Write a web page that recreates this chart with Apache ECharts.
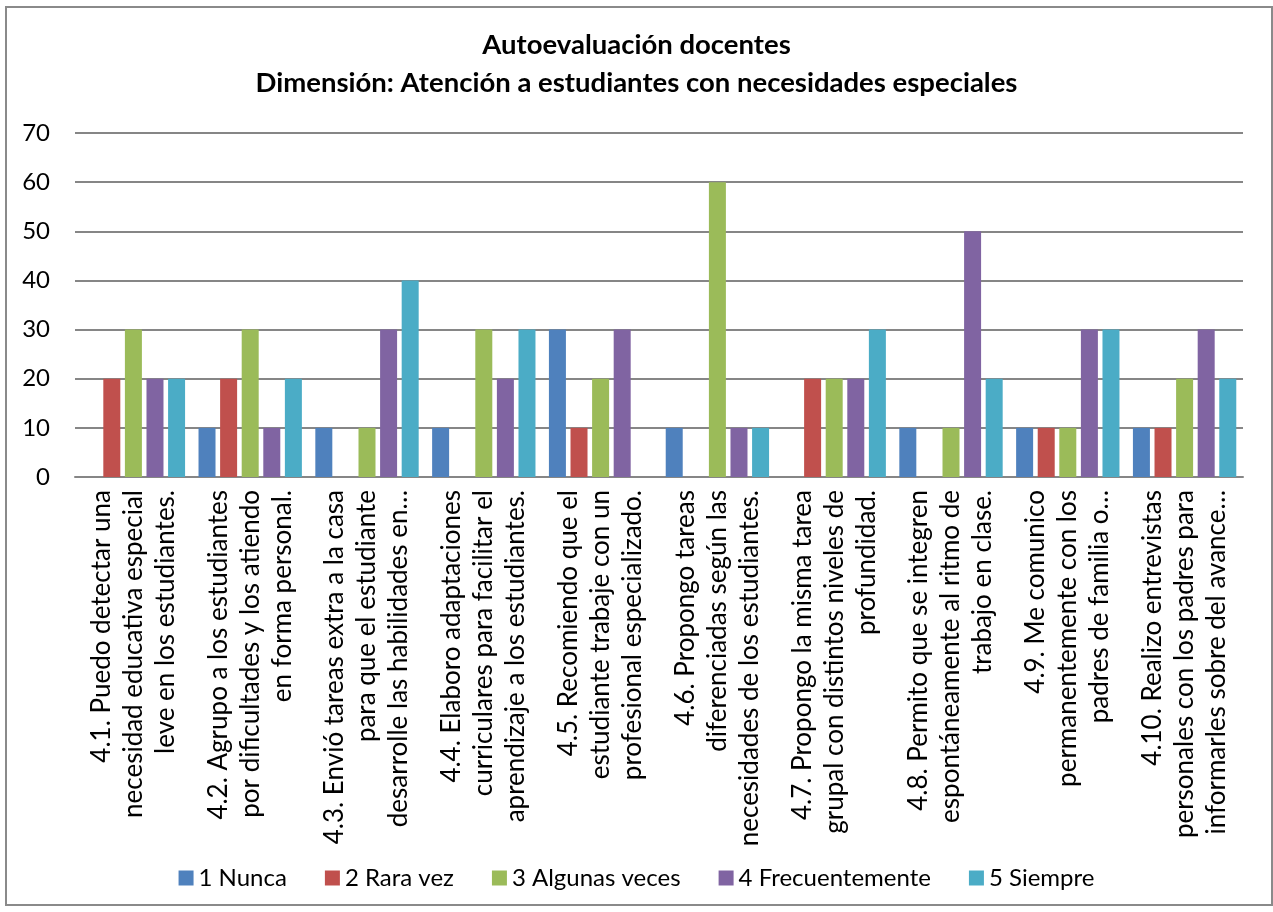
<!DOCTYPE html>
<html>
<head>
<meta charset="utf-8">
<script src="https://cdn.jsdelivr.net/npm/echarts@6/dist/echarts.min.js"></script>
<style>
html,body{margin:0;padding:0;background:#fff;}
#chart{position:absolute;left:0;top:0;width:1273px;height:912px;}
#frame{position:absolute;left:5px;top:6px;width:1264px;height:896px;border:2px solid #8a8a8a;pointer-events:none;}
</style>
</head>
<body>
<div id="chart"></div>
<div id="frame"></div>
<script>
const categories = [
  "4.1. Puedo detectar una\nnecesidad educativa especial\nleve en los estudiantes.",
  "4.2. Agrupo a los estudiantes\npor dificultades y los atiendo\nen forma personal.",
  "4.3. Envió tareas extra a la casa\npara que el estudiante\ndesarrolle las habilidades en…",
  "4.4. Elaboro adaptaciones\ncurriculares para facilitar el\naprendizaje a los estudiantes.",
  "4.5. Recomiendo que el\nestudiante trabaje con un\nprofesional especializado.",
  "4.6. Propongo tareas\ndiferenciadas según las\nnecesidades de los estudiantes.",
  "4.7. Propongo la misma tarea\ngrupal con distintos niveles de\nprofundidad.",
  "4.8. Permito que se integren\nespontáneamente al ritmo de\ntrabajo en clase.",
  "4.9. Me comunico\npermanentemente con los\npadres de familia o…",
  "4.10. Realizo entrevistas\npersonales con los padres para\ninformarles sobre del avance…"
];
const seriesNames = ["1 Nunca", "2 Rara vez", "3 Algunas veces", "4 Frecuentemente", "5 Siempre"];
const nunca      = [0, 10, 10, 10, 30, 10, 0, 10, 10, 10];
const raraVez    = [20, 20, 0, 0, 10, 0, 20, 0, 10, 10];
const algunas    = [30, 30, 10, 30, 20, 60, 20, 10, 10, 20];
const frecuente  = [20, 10, 30, 20, 30, 10, 20, 50, 30, 30];
const siempre    = [20, 20, 40, 30, 0, 10, 30, 20, 30, 20];
const yTicks = { min: 0, max: 70, interval: 10 };
const titleLines = ["Autoevaluación docentes", "Dimensión: Atención a estudiantes con necesidades especiales"];

const colors = ["#4F81BD", "#C0504D", "#9BBB59", "#8064A2", "#4BACC6"];
const FONT = "Lato, 'Liberation Sans', sans-serif";
const LABEL_SIZE = 26;
const LABEL_LH = 32;
const values = [nunca, raraVez, algunas, frecuente, siempre];

// centre each line inside its label block: left padding = half the gap to the widest line
const ctx = document.createElement('canvas').getContext('2d');
ctx.font = LABEL_SIZE + 'px ' + FONT;
const richStyles = {};
function labelFormatter(value) {
  const lines = value.split('\n');
  const ws = lines.map(function (s) { return ctx.measureText(s).width; });
  const W = Math.max.apply(null, ws);
  return lines.map(function (s, k) {
    const p = Math.round((W - ws[k]) / 2);
    const key = 'p' + p;
    if (!richStyles[key]) {
      richStyles[key] = { padding: [0, 0, 0, p], fontFamily: FONT, fontSize: LABEL_SIZE, lineHeight: LABEL_LH, color: '#000' };
    }
    return '{' + key + '|' + s + '}';
  }).join('\n');
}
categories.forEach(labelFormatter);

const chart = echarts.init(document.getElementById('chart'), null, { renderer: 'canvas' });
chart.setOption({
  backgroundColor: '#fff',
  animation: false,
  color: colors,
  title: {
    text: titleLines.join('\n'),
    left: 'center',
    top: 21,
    textStyle: { fontFamily: FONT, fontWeight: 'bold', fontSize: 27.5, lineHeight: 38, color: '#000' }
  },
  legend: {
    top: 861,
    left: 'center',
    icon: 'rect',
    itemWidth: 15,
    itemHeight: 15,
    itemGap: 38,
    textStyle: { fontFamily: FONT, fontSize: 24, color: '#000' },
    data: seriesNames
  },
  grid: { left: 75, right: 30, top: 133, bottom: 435, containLabel: false, outerBoundsMode: 'none' },
  xAxis: {
    type: 'category',
    data: categories,
    axisLine: { show: true, lineStyle: { color: '#868686', width: 2 } },
    axisTick: { show: false },
    axisLabel: {
      interval: 0,
      rotate: 90,
      margin: 13,
      hideOverlap: false,
      color: '#000',
      fontFamily: FONT,
      fontSize: LABEL_SIZE,
      lineHeight: LABEL_LH,
      formatter: labelFormatter,
      rich: richStyles
    }
  },
  yAxis: {
    type: 'value',
    min: yTicks.min,
    max: yTicks.max,
    interval: yTicks.interval,
    axisLine: { show: false },
    axisTick: { show: false },
    splitLine: { lineStyle: { color: '#868686', width: 2 } },
    axisLabel: { margin: 25, color: '#000', fontFamily: FONT, fontSize: 24 }
  },
  series: seriesNames.map(function (name, i) {
    return {
      name: name,
      type: 'bar',
      data: values[i],
      barWidth: 17,
      barGap: '27%',
      itemStyle: { color: colors[i] }
    };
  })
});
</script>
</body>
</html>
